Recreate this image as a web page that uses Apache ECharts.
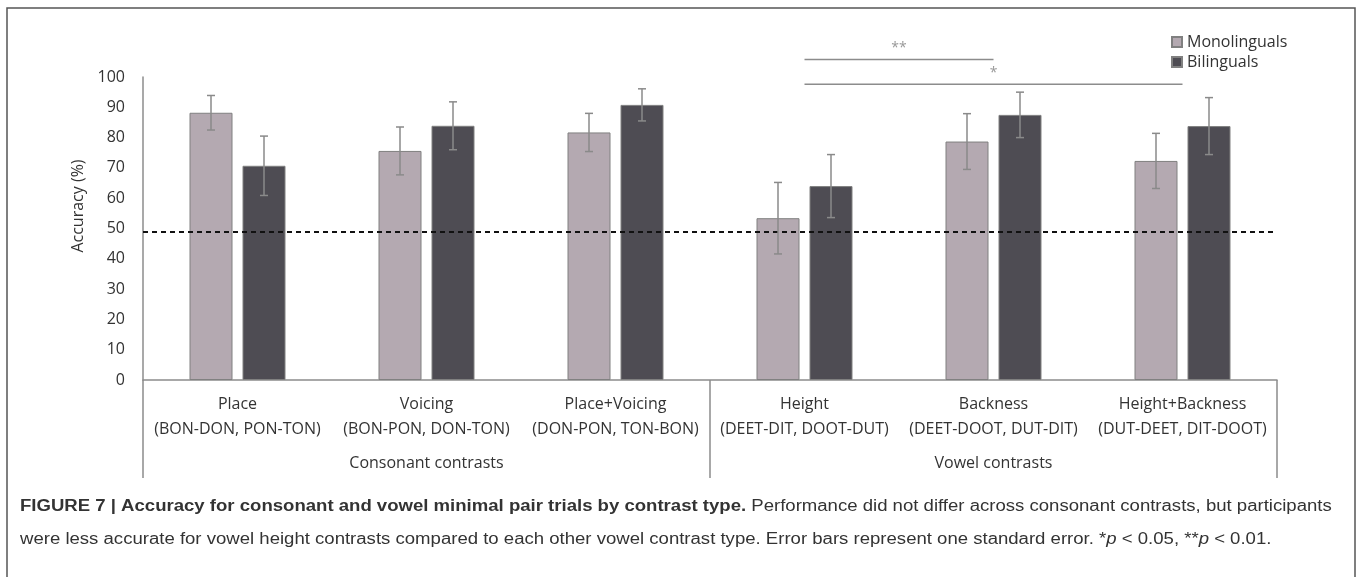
<!DOCTYPE html>
<html>
<head>
<meta charset="utf-8">
<script src="https://cdn.jsdelivr.net/npm/echarts@6/dist/echarts.min.js"></script>
<style>
  html, body { margin: 0; padding: 0; background: #fff; }
  #accuracy-chart { width: 1357px; height: 577px; }
</style>
</head>
<body>
<div id="accuracy-chart"></div>
<script>
const categories = ['Place', 'Voicing', 'Place+Voicing', 'Height', 'Backness', 'Height+Backness'];
const pairs = [
  '(BON-DON, PON-TON)',
  '(BON-PON, DON-TON)',
  '(DON-PON, TON-BON)',
  '(DEET-DIT, DOOT-DUT)',
  '(DEET-DOOT, DUT-DIT)',
  '(DUT-DEET, DIT-DOOT)',
];
const groups = ['Consonant contrasts', 'Vowel contrasts'];
const monolinguals = [88.2, 75.6, 81.7, 53.4, 78.7, 72.3];
const monoErr = [5.7, 7.9, 6.3, 11.8, 9.2, 9.1];
const bilinguals = [70.7, 83.9, 90.8, 64.0, 87.5, 83.8];
const biErr = [9.8, 7.9, 5.3, 10.4, 7.5, 9.4];
const chanceLevel = 49;
// [from category, to category, y, stars]
const sigLines = [
  [3, 4, 105.8, '**'],
  [3, 5, 97.6, '*'],
];

const FONT = '"Open Sans", sans-serif';
const CAPTION_FONT = '"Liberation Sans", Arial, sans-serif';
const BAR_W = 43;
const BAR_GAP = 10;

function errorSeries(values, errs, side) {
  return {
    type: 'custom',
    z: 5,
    silent: true,
    data: values.map((v, i) => [i, v, errs[i]]),
    renderItem(params, api) {
      const off = side * (BAR_W + BAR_GAP) / 2;
      const top = api.coord([api.value(0), api.value(1) + api.value(2)]);
      const bot = api.coord([api.value(0), api.value(1) - api.value(2)]);
      const x = top[0] + off;
      const style = { stroke: '#8a8a8a', lineWidth: 1.5 };
      return {
        type: 'group',
        children: [
          { type: 'line', shape: { x1: x, y1: top[1], x2: x, y2: bot[1] }, style },
          { type: 'line', shape: { x1: x - 4, y1: top[1], x2: x + 4, y2: top[1] }, style },
          { type: 'line', shape: { x1: x - 4, y1: bot[1], x2: x + 4, y2: bot[1] }, style },
        ],
      };
    },
  };
}

const chart = echarts.init(document.getElementById('accuracy-chart'));

const chartData = {
  animation: false,
  textStyle: { fontFamily: FONT },
  grid: {
    left: 143, right: 80, top: 77, bottom: 197,
  },
  legend: {
    data: ['Monolinguals', 'Bilinguals'],
    orient: 'vertical',
    left: 1171,
    top: 33,
    padding: 0,
    icon: 'rect',
    itemWidth: 10,
    itemHeight: 10,
    itemGap: 2,
    textStyle: {
      fontFamily: FONT, fontSize: 16, color: '#333', lineHeight: 18,
    },
  },
  xAxis: [
    {
      type: 'category',
      data: categories,
      axisLine: { lineStyle: { color: '#8c8c8c', width: 1.5 } },
      axisTick: { show: false },
      axisLabel: {
        interval: 0,
        margin: 12,
        fontSize: 16,
        lineHeight: 25,
        color: '#333',
        formatter: (val, idx) => `${val}\n${pairs[idx]}`,
      },
    },
    {
      type: 'category',
      data: groups,
      position: 'bottom',
      offset: 0,
      axisLine: { show: false },
      axisTick: {
        show: true, interval: 0, length: 98, lineStyle: { color: '#8c8c8c', width: 1.5 },
      },
      axisLabel: {
        interval: 0, margin: 75, fontSize: 16, color: '#333',
      },
    },
  ],
  yAxis: {
    type: 'value',
    min: 0,
    max: 100,
    interval: 10,
    axisLine: { show: true, lineStyle: { color: '#8c8c8c', width: 1.5 } },
    axisTick: { show: false },
    splitLine: { show: false },
    axisLabel: { margin: 18, fontSize: 16, color: '#333' },
  },
  series: [
    {
      name: 'Monolinguals',
      type: 'bar',
      barWidth: BAR_W,
      barGap: `${(BAR_GAP / BAR_W) * 100}%`,
      data: monolinguals,
      itemStyle: { color: '#b4a9b1', borderColor: '#808080', borderWidth: 1 },
      markLine: {
        silent: true,
        symbol: 'none',
        label: { show: false },
        lineStyle: { color: '#111', type: [5, 4], width: 2 },
        data: [{ yAxis: chanceLevel }],
      },
    },
    {
      name: 'Bilinguals',
      type: 'bar',
      barWidth: BAR_W,
      data: bilinguals,
      itemStyle: { color: '#4e4c53', borderColor: '#808080', borderWidth: 1 },
    },
    errorSeries(monolinguals, monoErr, -1),
    errorSeries(bilinguals, biErr, 1),
    {
      type: 'custom',
      clip: false,
      silent: true,
      data: sigLines.map((d) => [d[0], d[1], d[2]]),
      renderItem(params, api) {
        const a = api.coord([api.value(0), api.value(2)]);
        const b = api.coord([api.value(1), api.value(2)]);
        return {
          type: 'group',
          children: [
            {
              type: 'line',
              shape: { x1: a[0], y1: a[1], x2: b[0], y2: b[1] },
              style: { stroke: '#8c8c8c', lineWidth: 1.5 },
            },
            {
              type: 'text',
              x: (a[0] + b[0]) / 2,
              y: a[1] - 11,
              style: {
                text: sigLines[params.dataIndex][3],
                fill: '#999',
                font: `14px ${FONT}`,
                align: 'center',
                verticalAlign: 'middle',
              },
            },
          ],
        };
      },
    },
  ],
  graphic: [
    {
      type: 'rect',
      shape: { x: 7, y: 8, width: 1348, height: 620 },
      style: { fill: 'none', stroke: '#555', lineWidth: 1.5 },
      silent: true,
    },
    {
      type: 'text',
      x: 78,
      y: 206,
      rotation: Math.PI / 2,
      style: {
        text: 'Accuracy (%)',
        font: `16px ${FONT}`,
        fill: '#333',
        align: 'center',
        verticalAlign: 'middle',
      },
    },
    {
      type: 'text',
      x: 20,
      y: 490,
      scaleX: 1.16,
      style: {
        text: '{b|FIGURE 7 | Accuracy for consonant and vowel minimal pair trials by contrast type.} Performance did not differ across consonant contrasts, but participants\n'
          + 'were less accurate for vowel height contrasts compared to each other vowel contrast type. Error bars represent one standard error. *{i|p} < 0.05, **{i|p} < 0.01.',
        font: `16px ${CAPTION_FONT}`,
        fill: '#333',
        lineHeight: 33,
        rich: {
          b: {
            fontWeight: 'bold', fontSize: 16, fontFamily: CAPTION_FONT, lineHeight: 33,
          },
          i: {
            fontStyle: 'italic', fontSize: 16, fontFamily: CAPTION_FONT, lineHeight: 33,
          },
        },
      },
    },
  ],
};

chart.setOption(chartData);
</script>
</body>
</html>
